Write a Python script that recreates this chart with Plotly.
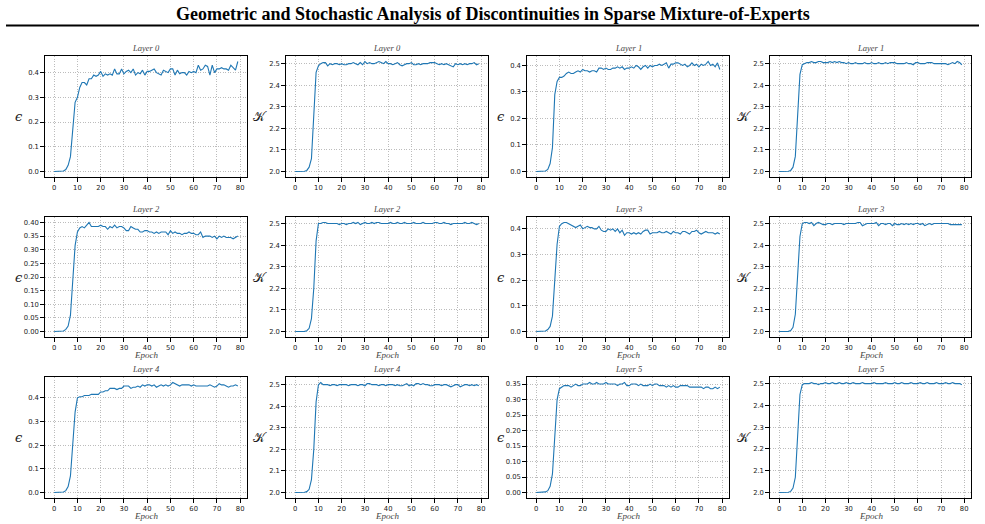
import plotly.graph_objects as go

epochs = list(range(80))

eps_L0 = [0.0, 0.0, 0.0, 0.0005, 0.002, 0.008, 0.025, 0.06, 0.19, 0.28,
          0.30, 0.34, 0.36, 0.36, 0.35, 0.375, 0.375, 0.39, 0.385, 0.39,
          0.405, 0.385, 0.395, 0.39, 0.395, 0.39, 0.415, 0.395, 0.395, 0.415,
          0.395, 0.405, 0.41, 0.40, 0.415, 0.39, 0.40, 0.395, 0.41, 0.39,
          0.405, 0.405, 0.41, 0.415, 0.40, 0.395, 0.39, 0.41, 0.405, 0.40,
          0.415, 0.415, 0.39, 0.41, 0.395, 0.40, 0.40, 0.39, 0.405, 0.40,
          0.405, 0.40, 0.43, 0.41, 0.415, 0.43, 0.425, 0.39, 0.43, 0.40,
          0.415, 0.415, 0.42, 0.415, 0.415, 0.41, 0.43, 0.42, 0.41, 0.445]

K_L0 = [2.0, 2.0, 2.0, 2.0, 2.001, 2.005, 2.02, 2.06, 2.25, 2.46,
        2.49, 2.50, 2.505, 2.505, 2.49, 2.50, 2.495, 2.50, 2.50, 2.495,
        2.50, 2.495, 2.495, 2.50, 2.50, 2.505, 2.50, 2.495, 2.505, 2.495,
        2.51, 2.50, 2.505, 2.50, 2.50, 2.505, 2.51, 2.505, 2.50, 2.51,
        2.50, 2.50, 2.495, 2.50, 2.505, 2.495, 2.49, 2.495, 2.50, 2.50,
        2.505, 2.495, 2.495, 2.50, 2.495, 2.50, 2.50, 2.50, 2.505, 2.505,
        2.505, 2.50, 2.495, 2.50, 2.495, 2.50, 2.495, 2.49, 2.485, 2.50,
        2.495, 2.50, 2.495, 2.50, 2.495, 2.50, 2.50, 2.505, 2.495, 2.50]

eps_L1 = [0.0, 0.0, 0.0, 0.0005, 0.002, 0.008, 0.03, 0.09, 0.29, 0.34,
          0.355, 0.355, 0.36, 0.37, 0.375, 0.37, 0.37, 0.375, 0.38, 0.375,
          0.385, 0.38, 0.38, 0.375, 0.38, 0.38, 0.375, 0.39, 0.39, 0.385,
          0.39, 0.385, 0.385, 0.39, 0.39, 0.395, 0.39, 0.395, 0.385, 0.39,
          0.39, 0.395, 0.39, 0.40, 0.395, 0.385, 0.395, 0.40, 0.39, 0.40,
          0.395, 0.40, 0.40, 0.405, 0.40, 0.405, 0.41, 0.39, 0.405, 0.405,
          0.41, 0.41, 0.405, 0.40, 0.405, 0.395, 0.40, 0.41, 0.40, 0.405,
          0.395, 0.405, 0.40, 0.405, 0.415, 0.40, 0.405, 0.395, 0.41, 0.385]

K_L1 = [2.0, 2.0, 2.0, 2.0, 2.001, 2.005, 2.02, 2.07, 2.25, 2.45,
        2.495, 2.50, 2.505, 2.505, 2.51, 2.505, 2.505, 2.51, 2.51, 2.505,
        2.505, 2.505, 2.51, 2.505, 2.51, 2.505, 2.51, 2.505, 2.505, 2.50,
        2.505, 2.50, 2.50, 2.505, 2.50, 2.50, 2.50, 2.505, 2.50, 2.50,
        2.505, 2.50, 2.50, 2.505, 2.50, 2.50, 2.505, 2.50, 2.505, 2.505,
        2.505, 2.50, 2.50, 2.50, 2.50, 2.505, 2.50, 2.50, 2.495, 2.505,
        2.505, 2.50, 2.50, 2.50, 2.505, 2.505, 2.505, 2.50, 2.50, 2.50,
        2.50, 2.50, 2.50, 2.495, 2.50, 2.505, 2.50, 2.51, 2.505, 2.495]

eps_L2 = [0.0, 0.0, 0.0, 0.0005, 0.002, 0.008, 0.02, 0.06, 0.18, 0.315,
          0.365, 0.38, 0.385, 0.38, 0.39, 0.40, 0.385, 0.385, 0.385, 0.385,
          0.39, 0.385, 0.385, 0.375, 0.385, 0.38, 0.39, 0.38, 0.385, 0.385,
          0.38, 0.37, 0.37, 0.385, 0.38, 0.375, 0.375, 0.365, 0.365, 0.37,
          0.37, 0.365, 0.365, 0.36, 0.365, 0.36, 0.365, 0.365, 0.365, 0.355,
          0.37, 0.36, 0.365, 0.36, 0.36, 0.355, 0.36, 0.36, 0.365, 0.36,
          0.36, 0.355, 0.355, 0.365, 0.345, 0.35, 0.35, 0.35, 0.345, 0.35,
          0.34, 0.35, 0.345, 0.35, 0.345, 0.345, 0.345, 0.34, 0.345, 0.35]

K_L2 = [2.0, 2.0, 2.0, 2.0, 2.001, 2.004, 2.015, 2.06, 2.2, 2.42,
        2.50, 2.50, 2.505, 2.505, 2.50, 2.50, 2.50, 2.50, 2.50, 2.495,
        2.50, 2.50, 2.495, 2.50, 2.50, 2.505, 2.50, 2.505, 2.495, 2.50,
        2.505, 2.50, 2.50, 2.505, 2.50, 2.505, 2.505, 2.50, 2.50, 2.50,
        2.50, 2.505, 2.50, 2.50, 2.505, 2.50, 2.50, 2.505, 2.50, 2.50,
        2.50, 2.505, 2.50, 2.50, 2.50, 2.505, 2.50, 2.50, 2.50, 2.50,
        2.505, 2.505, 2.50, 2.50, 2.505, 2.50, 2.50, 2.495, 2.50, 2.50,
        2.50, 2.50, 2.50, 2.505, 2.50, 2.50, 2.505, 2.50, 2.495, 2.50]

eps_L3 = [0.0, 0.0, 0.0, 0.0005, 0.002, 0.008, 0.02, 0.06, 0.20, 0.34,
          0.41, 0.42, 0.425, 0.425, 0.42, 0.415, 0.41, 0.405, 0.41, 0.415,
          0.40, 0.405, 0.41, 0.405, 0.405, 0.40, 0.40, 0.41, 0.395, 0.39,
          0.39, 0.40, 0.395, 0.40, 0.39, 0.40, 0.385, 0.395, 0.375, 0.385,
          0.385, 0.38, 0.385, 0.38, 0.385, 0.38, 0.39, 0.395, 0.395, 0.38,
          0.385, 0.385, 0.385, 0.39, 0.385, 0.385, 0.39, 0.385, 0.38, 0.39,
          0.385, 0.385, 0.38, 0.39, 0.39, 0.385, 0.38, 0.39, 0.39, 0.395,
          0.385, 0.38, 0.385, 0.39, 0.385, 0.385, 0.385, 0.38, 0.385, 0.38]

K_L3 = [2.0, 2.0, 2.0, 2.0, 2.001, 2.005, 2.02, 2.08, 2.25, 2.44,
        2.50, 2.505, 2.505, 2.50, 2.505, 2.49, 2.50, 2.505, 2.50, 2.495,
        2.495, 2.50, 2.50, 2.495, 2.50, 2.50, 2.50, 2.50, 2.495, 2.50,
        2.50, 2.50, 2.50, 2.50, 2.505, 2.505, 2.49, 2.495, 2.50, 2.50,
        2.50, 2.50, 2.505, 2.49, 2.50, 2.50, 2.495, 2.50, 2.50, 2.49,
        2.50, 2.495, 2.495, 2.50, 2.495, 2.50, 2.495, 2.50, 2.495, 2.50,
        2.50, 2.495, 2.50, 2.49, 2.495, 2.50, 2.495, 2.50, 2.50, 2.50,
        2.50, 2.50, 2.50, 2.50, 2.495, 2.495, 2.495, 2.495, 2.495, 2.495]

eps_L4 = [0.0, 0.0, 0.0, 0.0005, 0.002, 0.008, 0.025, 0.07, 0.21, 0.34,
          0.40, 0.405, 0.405, 0.41, 0.41, 0.41, 0.415, 0.415, 0.415, 0.415,
          0.425, 0.425, 0.43, 0.43, 0.44, 0.44, 0.44, 0.435, 0.44, 0.44,
          0.45, 0.45, 0.45, 0.44, 0.445, 0.445, 0.45, 0.445, 0.455, 0.45,
          0.455, 0.455, 0.45, 0.455, 0.445, 0.45, 0.455, 0.45, 0.455, 0.45,
          0.455, 0.465, 0.46, 0.455, 0.45, 0.455, 0.455, 0.455, 0.455, 0.45,
          0.455, 0.45, 0.45, 0.45, 0.45, 0.45, 0.45, 0.455, 0.45, 0.445,
          0.45, 0.46, 0.455, 0.455, 0.45, 0.445, 0.45, 0.45, 0.455, 0.45]

K_L4 = [2.0, 2.0, 2.0, 2.0, 2.001, 2.004, 2.015, 2.06, 2.2, 2.42,
        2.50, 2.51, 2.50, 2.50, 2.50, 2.495, 2.50, 2.50, 2.495, 2.50,
        2.50, 2.50, 2.50, 2.495, 2.50, 2.50, 2.50, 2.495, 2.50, 2.50,
        2.495, 2.505, 2.505, 2.50, 2.50, 2.50, 2.495, 2.50, 2.50, 2.495,
        2.50, 2.50, 2.50, 2.495, 2.50, 2.495, 2.495, 2.50, 2.505, 2.495,
        2.50, 2.495, 2.505, 2.505, 2.50, 2.505, 2.50, 2.50, 2.495, 2.495,
        2.50, 2.50, 2.50, 2.495, 2.50, 2.50, 2.495, 2.49, 2.495, 2.50,
        2.50, 2.49, 2.495, 2.50, 2.50, 2.495, 2.50, 2.495, 2.50, 2.495]

eps_L5 = [0.0, 0.0, 0.0, 0.0005, 0.002, 0.006, 0.02, 0.06, 0.19, 0.30,
          0.335, 0.34, 0.345, 0.345, 0.345, 0.34, 0.345, 0.35, 0.345, 0.345,
          0.35, 0.35, 0.35, 0.355, 0.35, 0.35, 0.355, 0.35, 0.35, 0.35,
          0.355, 0.35, 0.35, 0.35, 0.35, 0.345, 0.35, 0.35, 0.355, 0.345,
          0.345, 0.35, 0.35, 0.35, 0.345, 0.35, 0.345, 0.345, 0.345, 0.35,
          0.345, 0.35, 0.35, 0.345, 0.345, 0.345, 0.34, 0.345, 0.34, 0.345,
          0.34, 0.34, 0.345, 0.345, 0.345, 0.345, 0.34, 0.34, 0.34, 0.34,
          0.34, 0.34, 0.335, 0.34, 0.34, 0.335, 0.335, 0.34, 0.335, 0.34]

K_L5 = [2.0, 2.0, 2.0, 2.0, 2.001, 2.005, 2.02, 2.07, 2.25, 2.45,
        2.495, 2.50, 2.50, 2.50, 2.505, 2.50, 2.50, 2.495, 2.50, 2.50,
        2.505, 2.50, 2.50, 2.505, 2.50, 2.50, 2.505, 2.50, 2.50, 2.505,
        2.50, 2.50, 2.505, 2.50, 2.50, 2.50, 2.505, 2.50, 2.50, 2.50,
        2.50, 2.505, 2.50, 2.50, 2.50, 2.50, 2.505, 2.50, 2.50, 2.50,
        2.505, 2.50, 2.50, 2.505, 2.50, 2.50, 2.50, 2.505, 2.50, 2.50,
        2.50, 2.505, 2.50, 2.50, 2.505, 2.50, 2.50, 2.50, 2.505, 2.50,
        2.50, 2.50, 2.505, 2.50, 2.50, 2.505, 2.50, 2.50, 2.50, 2.495]

panel_titles = ["Layer 0", "Layer 0", "Layer 1", "Layer 1",
                "Layer 2", "Layer 2", "Layer 3", "Layer 3",
                "Layer 4", "Layer 4", "Layer 5", "Layer 5"]
panel_series = [eps_L0, K_L0, eps_L1, K_L1,
                eps_L2, K_L2, eps_L3, K_L3,
                eps_L4, K_L4, eps_L5, K_L5]
panel_kind = ["eps", "K"] * 6
x_ticks = [0, 10, 20, 30, 40, 50, 60, 70, 80]
main_title = "Geometric and Stochastic Analysis of Discontinuities in Sparse Mixture-of-Experts"

W, H = 985, 524
cols_px = [(45, 247), (286, 488), (527, 729), (770, 971)]
rows_px = [(56, 177), (217, 337), (377, 498)]

def px_x(p):
    return p / W

def px_y(p):
    return 1 - p / H

fig = go.Figure()
annotations = []
serif = "Liberation Serif"
tick_font = dict(family="DejaVu Sans", size=6.8, color="#222222")

for i, (ys, kind, ttl) in enumerate(zip(panel_series, panel_kind, panel_titles)):
    r, c = divmod(i, 4)
    n = i + 1
    sx = "" if n == 1 else str(n)
    x0, x1 = cols_px[c]
    y0, y1 = rows_px[r]
    fig.add_trace(go.Scatter(x=epochs, y=ys, mode="lines",
                             line=dict(color="#1f77b4", width=1.1),
                             xaxis="x" + sx, yaxis="y" + sx, showlegend=False,
                             hoverinfo="skip"))
    lo, hi = min(ys), max(ys)
    pad = (hi - lo) * 0.05
    if kind == "eps" and ttl in ("Layer 2", "Layer 5"):
        dtick, fmt = 0.05, ".2f"
    else:
        dtick, fmt = 0.1, ".1f"
    common = dict(showline=True, linecolor="black", linewidth=1.4, mirror=True,
                  ticks="outside", ticklen=3.5, tickwidth=0.8, tickcolor="black",
                  tickfont=tick_font, showgrid=True, gridcolor="#bcbcbc",
                  griddash="1px,1.5px", gridwidth=0.8, zeroline=False)
    fig.update_layout(**{
        "xaxis" + sx: dict(domain=[px_x(x0), px_x(x1)], anchor="y" + sx,
                           range=[-3.95, 82.95], tickvals=x_ticks, **common),
        "yaxis" + sx: dict(domain=[px_y(y1), px_y(y0)], anchor="x" + sx,
                           range=[lo - pad, hi + pad], dtick=dtick, tick0=0,
                           tickformat=fmt, **common),
    })
    annotations.append(dict(text=ttl, x=px_x((x0 + x1) / 2), y=px_y(y0 - 1),
                            xref="paper", yref="paper", xanchor="center",
                            yanchor="bottom", showarrow=False,
                            font=dict(family=serif, size=8.5, color="#444444",
                                      style="italic")))
    ylab = "ϵ" if kind == "eps" else "𝒦"
    annotations.append(dict(text=ylab, x=px_x(x0 - 26), y=px_y((y0 + y1) / 2),
                            xref="paper", yref="paper", xanchor="center",
                            yanchor="middle", showarrow=False,
                            font=dict(family="DejaVu Serif" if kind == "eps" else serif,
                                      size=13, color="#222222",
                                      style="italic" if kind == "eps" else "normal")))
    if r > 0:
        annotations.append(dict(text="Epoch", x=px_x((x0 + x1) / 2),
                                y=px_y(y1 + 18), xref="paper", yref="paper",
                                xanchor="center", yanchor="middle", showarrow=False,
                                font=dict(family=serif, size=9, color="#444444",
                                          style="italic")))

annotations.append(dict(text="<b>" + main_title + "</b>", x=0.5, y=px_y(14),
                        xref="paper", yref="paper", xanchor="center",
                        yanchor="middle", showarrow=False,
                        font=dict(family=serif, size=18, color="black")))

fig.update_layout(
    width=W, height=H, margin=dict(l=0, r=0, t=0, b=0),
    paper_bgcolor="white", plot_bgcolor="white",
    annotations=annotations,
    shapes=[dict(type="line", xref="paper", yref="paper",
                 x0=px_x(6), x1=px_x(979), y0=px_y(25.5), y1=px_y(25.5),
                 line=dict(color="black", width=2))],
)

fig.write_html("out.html")
